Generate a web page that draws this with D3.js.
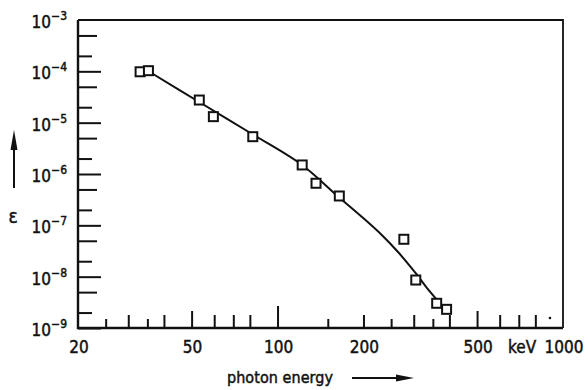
<!DOCTYPE html>
<html lang="en">
<head>
  <meta charset="utf-8">
  <title>photon energy vs e</title>
  <script src="https://cdnjs.cloudflare.com/ajax/libs/d3/7.8.5/d3.min.js"></script>
  <style>
    body { margin: 0; background: #fff; }
    svg { display: block; }
    text { font-family: "DejaVu Sans Condensed", "Liberation Sans Narrow", "Liberation Sans", sans-serif; fill: #111; stroke: #111; stroke-width: 0.45; }
    .tick line { stroke: #111; stroke-width: 2; }
  </style>
</head>
<body>
  <script>
    var w = 588;
    var h = 390;

    // measured points (energy in keV, e)
    var energy = [33.0, 35.3, 53.2, 59.6, 81.9, 122, 136.4, 164.6, 277, 305, 361, 391];
    var eValues = [9.8e-5, 1.03e-4, 2.76e-5, 1.31e-5, 5.33e-6, 1.5e-6, 6.6e-7, 3.73e-7, 5.35e-8, 8.6e-9, 3.03e-9, 2.31e-9];

    // fitted curve
    var curveEnergy = [35.8, 53.5, 82, 121.8, 163.3, 197.2, 232.3, 264.3, 303.2, 337.4, 370.9, 380];
    var curveE = [9.6e-5, 2.47e-5, 5.88e-6, 1.5e-6, 3.61e-7, 1.47e-7, 6.42e-8, 3.02e-8, 1.21e-8, 5.57e-9, 3.04e-9, 2.68e-9];

    // tick values
    var xLabels = [20, 50, 100, 200, 500, 1000];
    var xTicksDecade = [100];
    var xTicksHalf = [50, 500];
    var xTicksMid = [30, 40, 60, 70, 80, 200, 300, 400, 600, 700, 800];
    var xTicksShort = [25, 35, 150, 250, 350];
    var xTicksDot = [900];
    var yDecades = [1e-9, 1e-8, 1e-7, 1e-6, 1e-5, 1e-4, 1e-3];
    var yTicks5 = [5e-9, 5e-8, 5e-7, 5e-6, 5e-5, 5e-4];
    var yTicks2 = [2e-9, 2e-8, 2e-7, 2e-6, 2e-5, 2e-4];

    var padL = 78, padR = 563, padT = 20, padB = 328;

    var xScale = d3.scaleLog().domain([20, 1000]).range([padL, padR]);
    var yScale = d3.scaleLog().domain([1e-9, 1e-3]).range([padB, padT]);

    var svg = d3.select('body').append('svg')
      .attr('width', w)
      .attr('height', h);

    // x ticks, pointing up into the plot
    function xTickGroup (vals, len) {
      svg.append('g')
        .attr('transform', 'translate(0,' + padB + ')')
        .call(d3.axisBottom(xScale).tickValues(vals).tickSize(-len).tickFormat(''))
        .call(g => g.select('.domain').remove());
    }
    xTickGroup(xTicksDecade, 22);
    xTickGroup(xTicksHalf, 17);
    xTickGroup(xTicksMid, 13);
    xTickGroup(xTicksShort, 9);

    svg.selectAll('.dot')
      .data(xTicksDot)
      .enter().append('circle')
      .attr('cx', d => xScale(d))
      .attr('cy', padB - 10)
      .attr('r', 1.3)
      .attr('fill', '#111');

    // y ticks, pointing right into the plot
    function yTickGroup (vals, len) {
      svg.append('g')
        .attr('transform', 'translate(' + padL + ',0)')
        .call(d3.axisLeft(yScale).tickValues(vals).tickSize(-len).tickFormat(''))
        .call(g => g.select('.domain').remove());
    }
    yTickGroup(yDecades.slice(0, -1), 23);
    yTickGroup(yTicks5, 19);
    yTickGroup(yTicks2, 14);

    // frame
    svg.append('path')
      .attr('d', 'M' + padL + ',' + padT + 'H' + padR + 'V' + padB)
      .attr('fill', 'none').attr('stroke', '#111').attr('stroke-width', 1.8);
    svg.append('path')
      .attr('d', 'M' + padL + ',' + padT + 'V' + padB + 'H' + padR)
      .attr('fill', 'none').attr('stroke', '#111').attr('stroke-width', 2.4);

    // y labels
    var yl = svg.selectAll('.ylab')
      .data(yDecades)
      .enter().append('text')
      .attr('class', 'ylab')
      .attr('x', 67)
      .attr('y', d => yScale(d) + 8)
      .attr('text-anchor', 'end')
      .style('font-size', '17px');
    yl.append('tspan').text('10');
    yl.append('tspan')
      .attr('dy', -8)
      .style('font-size', '12px')
      .text(d => '\u2212' + Math.round(-Math.log10(d)));

    // x labels
    svg.selectAll('.xlab')
      .data(xLabels)
      .enter().append('text')
      .attr('class', 'xlab')
      .attr('x', d => xScale(d) + 1)
      .attr('y', 353)
      .attr('text-anchor', 'middle')
      .style('font-size', '17px')
      .text(d => d);

    svg.append('text')
      .attr('x', (xScale(500) + xScale(1000)) / 2 + 2)
      .attr('y', 353)
      .attr('text-anchor', 'middle')
      .style('font-size', '17px')
      .text('keV');

    // axis titles
    svg.append('text')
      .attr('x', 227)
      .attr('y', 383)
      .attr('textLength', 106)
      .style('font-size', '16px')
      .text('photon energy');
    svg.append('line')
      .attr('x1', 352).attr('x2', 400).attr('y1', 378).attr('y2', 378)
      .attr('stroke', '#111').attr('stroke-width', 2);
    svg.append('path')
      .attr('d', 'M396,374.5L414,378L396,381.5Z')
      .attr('fill', '#111');

    svg.append('text')
      .attr('x', 13)
      .attr('y', 223)
      .attr('text-anchor', 'middle')
      .style('font-size', '19px')
      .text('\u03b5');
    svg.append('line')
      .attr('x1', 14).attr('x2', 14).attr('y1', 188).attr('y2', 145)
      .attr('stroke', '#111').attr('stroke-width', 2);
    svg.append('path')
      .attr('d', 'M10.5,150L14,130L17.5,150Z')
      .attr('fill', '#111');

    // fitted curve
    var line = d3.line()
      .x(d => xScale(d[0]))
      .y(d => yScale(d[1]))
      .curve(d3.curveCatmullRom.alpha(0.5));

    svg.append('path')
      .datum(curveEnergy.map((d, i) => [d, curveE[i]]))
      .attr('d', line)
      .attr('fill', 'none')
      .attr('stroke', '#111')
      .attr('stroke-width', 2);

    // data squares
    svg.selectAll('.pt')
      .data(energy.map((d, i) => [d, eValues[i]]))
      .enter().append('rect')
      .attr('class', 'pt')
      .attr('x', d => xScale(d[0]) - 4.5)
      .attr('y', d => yScale(d[1]) - 4.5)
      .attr('width', 9)
      .attr('height', 9)
      .attr('fill', '#fff')
      .attr('stroke', '#111')
      .attr('stroke-width', 2);
  </script>
</body>
</html>
